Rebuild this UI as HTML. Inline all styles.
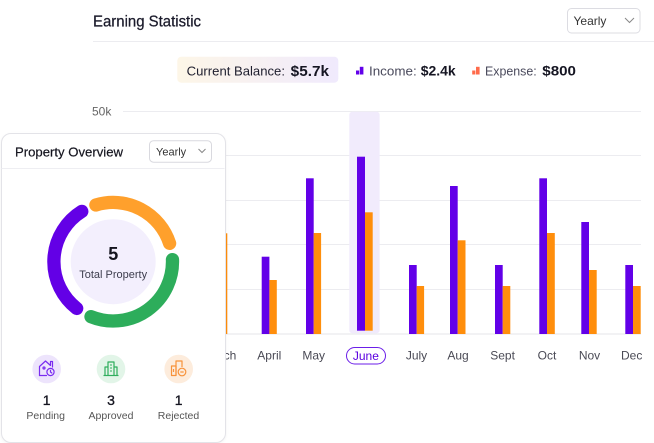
<!DOCTYPE html>
<html>
<head>
<meta charset="utf-8">
<style>
  html,body{margin:0;padding:0;}
  body{width:654px;height:443px;overflow:hidden;background:#ffffff;position:relative;font-family:"Liberation Sans",sans-serif;}
  .abs{position:absolute;}
  svg text{font-family:"Liberation Sans",sans-serif;}
</style>
</head>
<body>

<!-- Main chart -->
<svg class="abs" style="left:0;top:0" width="654" height="443" viewBox="0 0 654 443">
  <!-- header -->
  <text x="93" y="26.5" font-size="15.5" fill="#1b1b2b" stroke="#1b1b2b" stroke-width="0.25" textLength="108" lengthAdjust="spacingAndGlyphs">Earning Statistic</text>
  <rect x="567.5" y="8.5" width="72.5" height="24.5" rx="4" fill="#fff" stroke="#dcdce2"/>
  <text x="573.5" y="25" font-size="12" fill="#333">Yearly</text>
  <polyline points="625,18 629.5,22.5 634,18" fill="none" stroke="#888" stroke-width="1"/>
  <line x1="93" y1="41.5" x2="654" y2="41.5" stroke="#ececf0" stroke-width="1"/>

  <!-- legend -->
  <defs>
    <linearGradient id="bal" x1="0" y1="0" x2="1" y2="0">
      <stop offset="0" stop-color="#fdf6e7"/>
      <stop offset="1" stop-color="#f0eafd"/>
    </linearGradient>
  </defs>
  <rect x="177.3" y="56.7" width="161" height="26" rx="4" fill="url(#bal)"/>
  <text x="186.7" y="75.3" font-size="13" fill="#1e1e2e" textLength="98.3" lengthAdjust="spacingAndGlyphs">Current Balance:</text>
  <text x="290.7" y="75.8" font-size="15" font-weight="bold" fill="#151522" textLength="38.3" lengthAdjust="spacingAndGlyphs">$5.7k</text>

  <rect x="356" y="70.5" width="3.2" height="4" fill="#6200ea"/>
  <rect x="359.8" y="66.8" width="3.6" height="7.7" fill="#6200ea"/>
  <text x="369" y="75.3" font-size="13" fill="#4a4a5c" textLength="47.7" lengthAdjust="spacingAndGlyphs">Income:</text>
  <text x="420.7" y="75.5" font-size="14" font-weight="bold" fill="#151522" textLength="35" lengthAdjust="spacingAndGlyphs">$2.4k</text>

  <rect x="472.2" y="70.5" width="3.2" height="4" fill="#ff6b4b"/>
  <rect x="476" y="66.8" width="3.6" height="7.7" fill="#ff6b4b"/>
  <text x="485" y="75.3" font-size="13" fill="#4a4a5c" textLength="51.7" lengthAdjust="spacingAndGlyphs">Expense:</text>
  <text x="542.3" y="75.5" font-size="14" font-weight="bold" fill="#151522" textLength="33.7" lengthAdjust="spacingAndGlyphs">$800</text>

  <!-- y labels -->
  <text x="92" y="115.3" font-size="12" fill="#666">50k</text>
  <text x="92" y="159.9" font-size="12" fill="#666">40k</text>
  <text x="92" y="204.5" font-size="12" fill="#666">30k</text>
  <text x="92" y="249.1" font-size="12" fill="#666">20k</text>
  <text x="92" y="293.7" font-size="12" fill="#666">10k</text>
  <text x="104" y="338.3" font-size="12" fill="#666">0</text>

  <!-- grid -->
  <g stroke="#ececf0" stroke-width="1">
    <line x1="123" y1="111.5" x2="641" y2="111.5"/>
    <line x1="123" y1="155.5" x2="641" y2="155.5"/>
    <line x1="123" y1="200.5" x2="641" y2="200.5"/>
    <line x1="123" y1="244.5" x2="641" y2="244.5"/>
    <line x1="123" y1="289.5" x2="641" y2="289.5"/>
  </g>
  <line x1="123" y1="334" x2="641" y2="334" stroke="#e6e6ea" stroke-width="1"/>

  <!-- June highlight -->
  <rect x="349.3" y="111.7" width="30.3" height="221.6" rx="3" fill="#f1ebfc"/>

  <!-- bars -->
  <g fill="#6200e8">
    <rect x="212" y="256.7" width="7.7" height="77.3"/>
    <rect x="261.7" y="256.7" width="7.7" height="77.3"/>
    <rect x="306" y="178.3" width="7.7" height="155.7"/>
    <rect x="357" y="156.7" width="8" height="174"/>
    <rect x="409" y="265" width="7.7" height="69"/>
    <rect x="450" y="186" width="7.7" height="148"/>
    <rect x="495" y="265" width="7.7" height="69"/>
    <rect x="539.3" y="178.3" width="7.7" height="155.7"/>
    <rect x="581.3" y="222" width="7.7" height="112"/>
    <rect x="625.3" y="265" width="7.7" height="69"/>
  </g>
  <g fill="#ff8e0c">
    <rect x="219.7" y="233.3" width="7.6" height="100.7"/>
    <rect x="269.4" y="280" width="7.4" height="54"/>
    <rect x="313.7" y="233" width="7.4" height="101"/>
    <rect x="365" y="212.3" width="7.7" height="118.4"/>
    <rect x="416.7" y="286" width="7.4" height="48"/>
    <rect x="457.7" y="240.3" width="7.8" height="93.7"/>
    <rect x="502.7" y="286" width="7.6" height="48"/>
    <rect x="547" y="233" width="7.8" height="101"/>
    <rect x="589" y="270" width="7.7" height="64"/>
    <rect x="633" y="286" width="7.7" height="48"/>
  </g>

  <!-- x labels -->
  <g font-size="12" fill="#4a4a55" text-anchor="middle">
    <text x="219.7" y="359.3">March</text>
    <text x="269.3" y="359.3">April</text>
    <text x="313.7" y="359.3">May</text>
    <text x="416.5" y="359.3">July</text>
    <text x="458" y="359.3">Aug</text>
    <text x="502.6" y="359.3">Sept</text>
    <text x="547" y="359.3">Oct</text>
    <text x="589.5" y="359.3">Nov</text>
    <text x="631.7" y="359.3">Dec</text>
  </g>
  <rect x="346.5" y="347.5" width="39" height="16.5" rx="8.25" fill="#fff" stroke="#6b1ee8" stroke-width="1"/>
  <text x="365.9" y="360" font-size="12" fill="#5b00e0" text-anchor="middle">June</text>
</svg>

<!-- Property Overview card -->
<div class="abs" style="left:0.5px;top:133px;width:223.5px;height:307.5px;border:1px solid #e3e3e8;border-radius:10px;background:#fff;box-shadow:0 1px 3px rgba(0,0,0,0.05);"></div>

<svg class="abs" style="left:0;top:0" width="654" height="443" viewBox="0 0 654 443">
  <text x="15" y="156.3" font-size="13" fill="#15151f" stroke="#15151f" stroke-width="0.2" textLength="108" lengthAdjust="spacingAndGlyphs">Property Overview</text>
  <rect x="149.5" y="140.7" width="62" height="21.5" rx="4" fill="#fff" stroke="#d9d9df"/>
  <text x="156" y="155.5" font-size="11" fill="#333">Yearly</text>
  <polyline points="198.5,149 202,152.5 205.5,149" fill="none" stroke="#888" stroke-width="1"/>
  <line x1="1.5" y1="168.5" x2="224.5" y2="168.5" stroke="#eeeef2" stroke-width="1"/>

  <!-- donut -->
  <circle cx="113.2" cy="261.7" r="42.5" fill="#f3effd"/>
  <g fill="none" stroke-width="13.3" stroke-linecap="round">
    <path d="M95.86 204.99 A59.3 59.3 0 0 1 169.60 243.38" stroke="#ffa02c"/>
    <path d="M172.46 259.63 A59.3 59.3 0 0 1 90.99 316.68" stroke="#2dad5b"/>
    <path d="M76.69 308.43 A59.3 59.3 0 0 1 81.78 211.41" stroke="#6300e6"/>
  </g>
  <text x="113.2" y="260" font-size="18" font-weight="bold" fill="#14141e" text-anchor="middle">5</text>
  <text x="113.2" y="278" font-size="11" fill="#3d3d4d" text-anchor="middle">Total Property</text>

  <!-- status icons -->
  <circle cx="46.7" cy="369" r="14.3" fill="#ede4fc"/>
  <circle cx="111" cy="369" r="14.3" fill="#e2f5e8"/>
  <circle cx="178.7" cy="369" r="14.3" fill="#fdecdc"/>

  <!-- pending: house + clock -->
  <g fill="none" stroke="#7a2cf0" stroke-width="1.2" stroke-linejoin="round" stroke-linecap="round">
    <path d="M39.5 375.5 V366.5 L45.5 361 L50.5 365.5 V361.5 H52.5 V367"/>
    <path d="M39.5 375.5 H46.5"/>
    <circle cx="44" cy="368" r="1"/>
    <circle cx="50.5" cy="372" r="3.6"/>
    <path d="M50.5 370.3 V372 L51.8 373"/>
  </g>
  <!-- approved: buildings -->
  <g fill="none" stroke="#2fae5d" stroke-width="1.2" stroke-linejoin="round">
    <path d="M103.5 375.5 H118.5"/>
    <path d="M108 375.5 V362 H114 V375.5"/>
    <path d="M105 375.5 V367 H108"/>
    <path d="M114 367 H117 V375.5"/>
    <path d="M110 365 H112 M110 368 H112 M110 371 H112" stroke-width="1"/>
  </g>
  <!-- rejected: buildings + minus circle -->
  <g fill="none" stroke="#f7923a" stroke-width="1.2" stroke-linejoin="round">
    <path d="M171.5 375.5 V366 H176 V375.5 Z"/>
    <path d="M176 375.5 V361 H182 V367"/>
    <path d="M173.5 369 V372"/>
    <circle cx="182" cy="372" r="3.8" fill="#fdecdc"/>
    <path d="M180.3 372 H183.7"/>
  </g>

  <g font-size="14" fill="#151520" text-anchor="middle" stroke="#151520" stroke-width="0.3">
    <text x="46.7" y="405">1</text>
    <text x="111" y="405">3</text>
    <text x="178.7" y="405">1</text>
  </g>
  <g font-size="10.5" fill="#555" text-anchor="middle">
    <text x="45.7" y="419">Pending</text>
    <text x="111" y="419">Approved</text>
    <text x="178.5" y="419">Rejected</text>
  </g>
</svg>

</body>
</html>
